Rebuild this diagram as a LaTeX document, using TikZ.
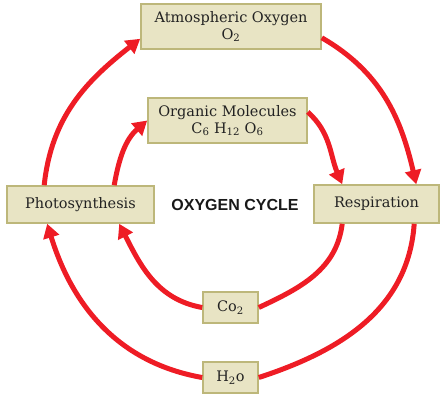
\documentclass[tikz,border=0pt]{standalone}
\usepackage{fontspec}
\setmainfont{DejaVu Serif}
\newfontfamily\titlefont{Liberation Sans}
\usetikzlibrary{arrows.meta,calc}
\definecolor{boxfill}{HTML}{E8E4C4}
\definecolor{boxline}{HTML}{BDB77A}
\definecolor{cyclered}{HTML}{EE1C25}
\definecolor{txt}{HTML}{222222}
\tikzset{
  box/.style={draw=boxline, fill=boxfill, line width=1.6pt, inner sep=0pt,
    align=center, text=txt, font=\fontsize{14.5}{17}\selectfont},
  flow/.style={draw=cyclered, line width=5pt},
  flowarrow/.style={flow, -{Triangle[length=14pt,width=16pt]}}
}
\begin{document}
\begin{tikzpicture}[x=1pt,y=1pt]
\useasboundingbox (0,0) rectangle (446,405);
\node[box, minimum width=180pt, minimum height=45pt] (atm) at (231,378.5)
  {Atmospheric Oxygen\\O\textsubscript{2}};
\node[box, minimum width=159pt, minimum height=45pt] (org) at (227.5,284.5)
  {Organic Molecules\\C\textsubscript{6} H\textsubscript{12} O\textsubscript{6}};
\node[box, minimum width=147pt, minimum height=37pt] (pho) at (80.5,200.5) {Photosynthesis};
\node[box, minimum width=125pt, minimum height=38pt] (res) at (376.5,201) {Respiration};
\node[box, minimum width=55pt, minimum height=31pt] (co2) at (230.5,97.5) {Co\textsubscript{2}};
\node[box, minimum width=55pt, minimum height=31pt] (h2o) at (230.5,27.5) {H\textsubscript{2}o};
\node[font=\titlefont\bfseries\fontsize{16}{19}\selectfont, text=black!90] (title) at (235,200) {OXYGEN CYCLE};

% outer cycle
\draw[flowarrow] ($(pho.north west)+(38,0)$) to[out=84,in=218] ($(atm.south west)+(0,11)$);
\draw[flowarrow] ($(atm.south east)+(0,12)$) to[out=-30,in=103] ($(res.north west)+(103,0)$);
\draw[flow] ($(res.south west)+(101,0)$) to[out=-94,in=18] (h2o.east);
\draw[flowarrow] (h2o.west) to[out=170,in=-73] ($(pho.south west)+(41,0)$);
% inner cycle
\draw[flowarrow] ($(pho.north west)+(108,0)$) to[out=80,in=221] (org.west);
\draw[flowarrow] ($(org.east)+(0,8.5)$) to[out=-42,in=113] ($(res.north west)+(29,0)$);
\draw[flow] ($(res.south west)+(29,0)$) to[out=-97,in=25] (co2.east);
\draw[flowarrow] (co2.west) to[out=170,in=-63] ($(pho.south west)+(113,0)$);
\end{tikzpicture}
\end{document}
